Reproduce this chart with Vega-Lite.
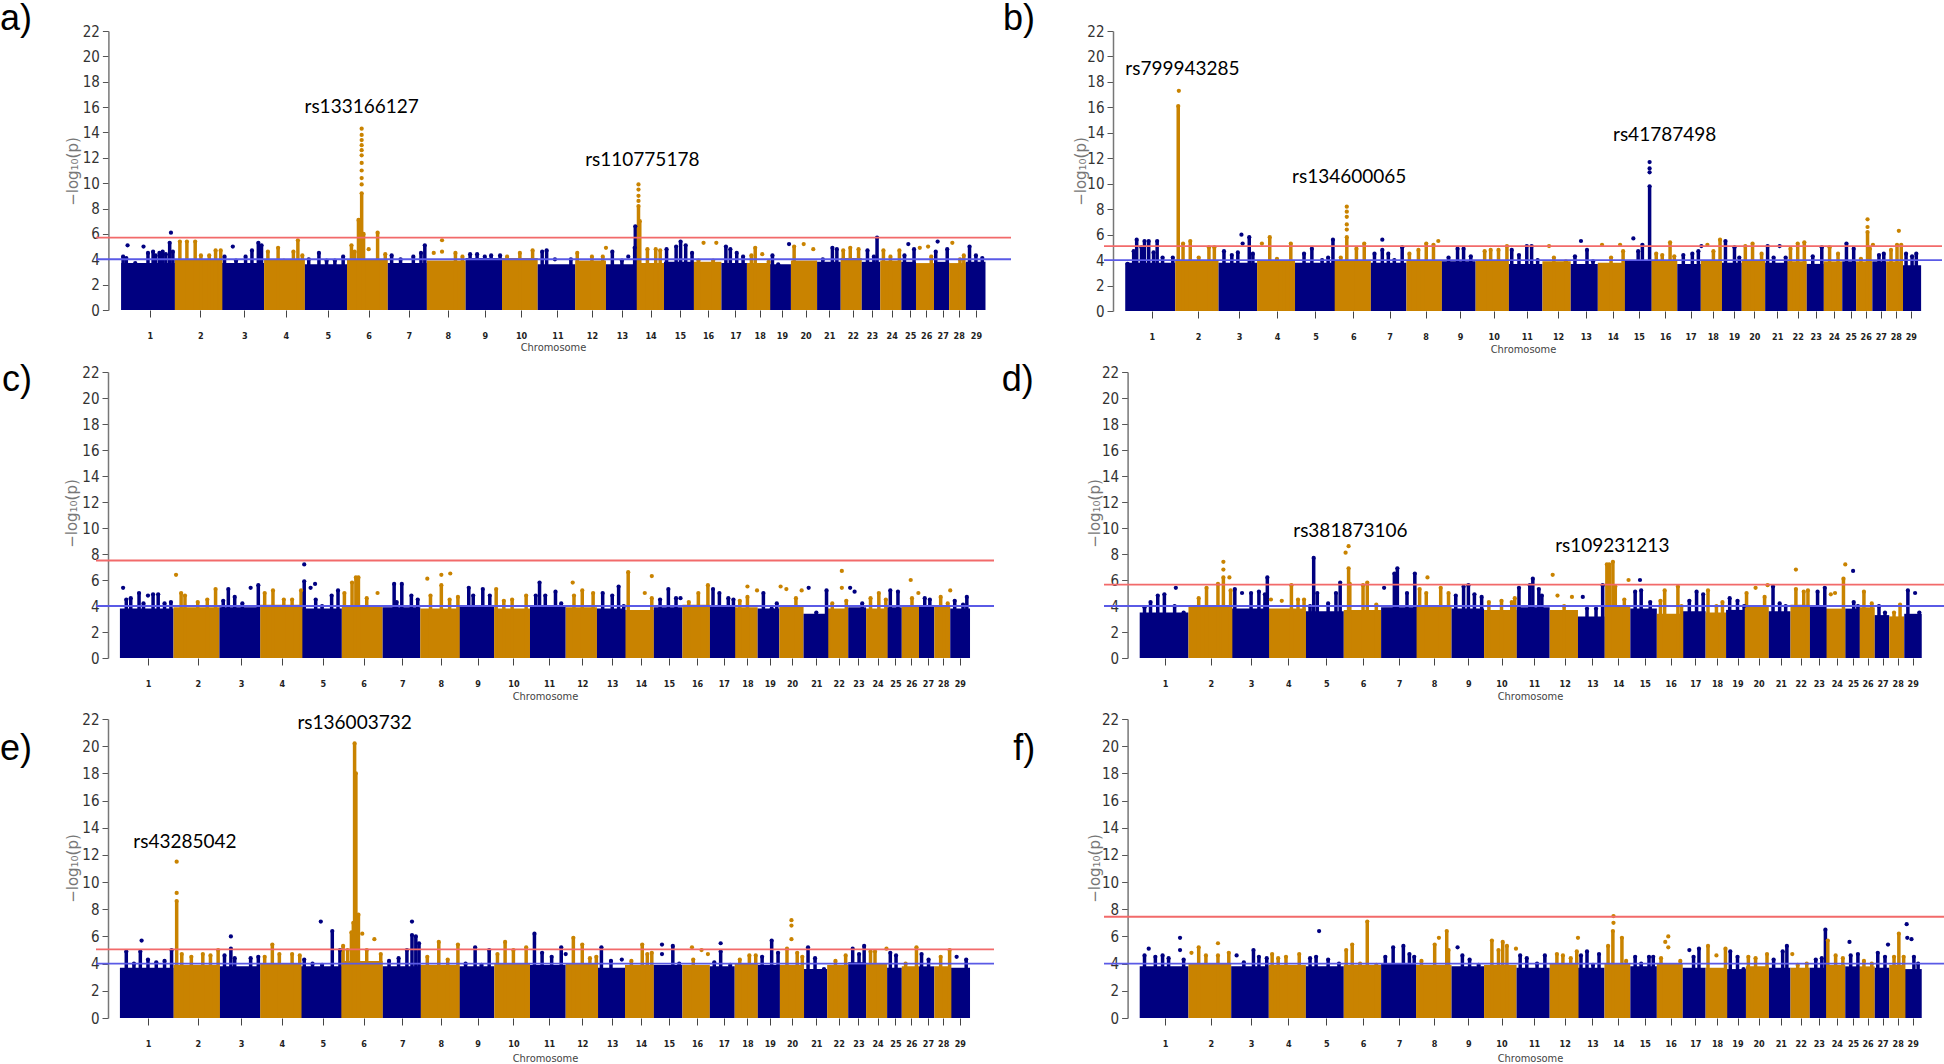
{"$schema":"https://vega.github.io/schema/vega-lite/v6.json","padding":0,"background":"white","bounds":"flush","align":"each","columns":2,"spacing":{"row":61,"column":93},
"config":{"view":{"stroke":null},"legend":{"disable":true},"range":{"category":["#5a5ae6","#000080","#c98300","#f26a6a"]},
"axisX":{"domain":false,"grid":false,"tickSize":7,"tickColor":"#444444","tickWidth":1,"tickCount":40,"labelFont":"DejaVu Sans Condensed","labelFontSize":9,"labelFontWeight":"bold","labelColor":"#222222","labelPadding":14,"labelAngle":0,"labelBound":false,"labelFlush":false,"titleFont":"DejaVu Sans Condensed","titleFontSize":11,"titleFontWeight":"normal","titleColor":"#444444","titleBaseline":"middle","titleAlign":"center","titleAnchor":null},
"axisY":{"grid":false,"tickSize":6,"tickColor":"#555555","domainColor":"#777777","domainWidth":1.5,"labelFont":"DejaVu Sans Condensed","labelFontSize":15,"labelColor":"#333333","labelPadding":3,"values":[0,2,4,6,8,10,12,14,16,18,20,22],"labelBound":false,"labelFlush":false,"titleFont":"DejaVu Sans","titleFontSize":15,"titleFontWeight":"normal","titleColor":"#777777","titleBaseline":"middle","titleAlign":"center","titleAngle":-90}},
"datasets":{
"ca":[{"x":190,"x2":274,"y":3.7,"c":"n"},{"x":274,"x2":348,"y":4,"c":"o"},{"x":348,"x2":414,"y":3.7,"c":"n"},{"x":414,"x2":478,"y":4,"c":"o"},{"x":478,"x2":544,"y":3.6,"c":"n"},{"x":544,"x2":608,"y":4,"c":"o"},{"x":608,"x2":669,"y":3.7,"c":"n"},{"x":669,"x2":730,"y":3.9,"c":"o"},{"x":730,"x2":787,"y":4.1,"c":"n"},{"x":787,"x2":843,"y":4.1,"c":"o"},{"x":843,"x2":902,"y":3.6,"c":"n"},{"x":902,"x2":950,"y":3.9,"c":"o"},{"x":950,"x2":996,"y":3.6,"c":"n"},{"x":996,"x2":1041,"y":3.7,"c":"o"},{"x":1041,"x2":1087,"y":3.8,"c":"n"},{"x":1087,"x2":1131,"y":3.8,"c":"o"},{"x":1131,"x2":1171,"y":3.7,"c":"n"},{"x":1171,"x2":1207,"y":3.7,"c":"o"},{"x":1207,"x2":1240,"y":3.6,"c":"n"},{"x":1240,"x2":1281,"y":3.9,"c":"o"},{"x":1281,"x2":1318,"y":3.8,"c":"n"},{"x":1318,"x2":1351,"y":4.1,"c":"o"},{"x":1351,"x2":1380,"y":3.8,"c":"n"},{"x":1380,"x2":1413,"y":3.9,"c":"o"},{"x":1413,"x2":1436,"y":3.8,"c":"n"},{"x":1436,"x2":1465,"y":3.7,"c":"o"},{"x":1465,"x2":1488,"y":3.8,"c":"n"},{"x":1488,"x2":1514,"y":3.7,"c":"o"},{"x":1514,"x2":1545,"y":3.8,"c":"n"}],
"pa":[{"x":193,"y":4.2,"c":"n"},{"x":198,"y":4.1,"c":"n"},{"x":200,"y":5.1,"c":"n","d":1},{"x":212,"y":3.7,"c":"n"},{"x":225,"y":5,"c":"n","d":1},{"x":232,"y":4.5,"c":"n"},{"x":240,"y":4.6,"c":"n"},{"x":244,"y":4.3,"c":"n"},{"x":250,"y":4.5,"c":"n"},{"x":255,"y":4.6,"c":"n"},{"x":260,"y":4.4,"c":"n"},{"x":266,"y":5.3,"c":"n"},{"x":268,"y":6.1,"c":"n","d":1},{"x":271,"y":4.6,"c":"n"},
{"x":282,"y":5.4,"c":"o"},{"x":293,"y":5.4,"c":"o"},{"x":306,"y":5.4,"c":"o"},{"x":315,"y":4.3,"c":"o"},{"x":328,"y":4.3,"c":"o"},{"x":338,"y":4.7,"c":"o"},{"x":346,"y":4.7,"c":"o"},
{"x":352,"y":4.2,"c":"n"},{"x":365,"y":5,"c":"n","d":1},{"x":370,"y":3.9,"c":"n"},{"x":385,"y":4.2,"c":"n"},{"x":395,"y":4.7,"c":"n"},{"x":405,"y":5.3,"c":"n"},{"x":410,"y":5.1,"c":"n"},
{"x":420,"y":4.6,"c":"o"},{"x":436,"y":4.9,"c":"o"},{"x":445,"y":3.9,"c":"o"},{"x":460,"y":4.6,"c":"o"},{"x":467,"y":5.5,"c":"o"},{"x":474,"y":4.3,"c":"o"},
{"x":484,"y":4,"c":"n"},{"x":500,"y":4.5,"c":"n"},{"x":512,"y":3.9,"c":"n"},{"x":525,"y":3.9,"c":"n"},{"x":538,"y":4.2,"c":"n"},
{"x":551,"y":5.1,"c":"o"},{"x":556,"y":4.6,"c":"o"},{"x":562,"y":7.1,"c":"o"},{"x":565,"y":7.1,"c":"o"},{"x":567,"y":9.2,"c":"o"},{"x":570,"y":6,"c":"o"},{"x":567,"y":9.9,"c":"o","d":1},{"x":567,"y":10.4,"c":"o","d":1},{"x":567,"y":11,"c":"o","d":1},{"x":567,"y":11.6,"c":"o","d":1},{"x":567,"y":12.2,"c":"o","d":1},{"x":567,"y":12.6,"c":"o","d":1},{"x":567,"y":13,"c":"o","d":1},{"x":567,"y":13.4,"c":"o","d":1},{"x":567,"y":13.8,"c":"o","d":1},{"x":567,"y":14.3,"c":"o","d":1},{"x":578,"y":4.8,"c":"o","d":1},{"x":592,"y":6.1,"c":"o"},{"x":604,"y":4.4,"c":"o"},
{"x":614,"y":4.3,"c":"n"},{"x":628,"y":4,"c":"n"},{"x":648,"y":4.2,"c":"n"},{"x":660,"y":4.5,"c":"n"},{"x":666,"y":5.1,"c":"n"},
{"x":680,"y":4.5,"c":"o","d":1},{"x":693,"y":5.5,"c":"o","d":1},{"x":693,"y":4.6,"c":"o","d":1},{"x":714,"y":4.5,"c":"o"},{"x":725,"y":4.2,"c":"o"},
{"x":737,"y":4.4,"c":"n"},{"x":748,"y":4.4,"c":"n"},{"x":760,"y":4.2,"c":"n"},{"x":770,"y":4.3,"c":"n"},{"x":784,"y":4.3,"c":"n"},
{"x":795,"y":4.2,"c":"o"},{"x":815,"y":4.5,"c":"o"},{"x":835,"y":4.7,"c":"o"},
{"x":850,"y":4.6,"c":"n"},{"x":857,"y":4.7,"c":"n"},{"x":870,"y":4,"c":"n","d":1},{"x":895,"y":4,"c":"n"},
{"x":905,"y":4.5,"c":"o"},{"x":928,"y":4.2,"c":"o"},{"x":945,"y":4.2,"c":"o"},{"x":950,"y":4.9,"c":"o","d":1},
{"x":960,"y":4.6,"c":"n"},{"x":975,"y":3.9,"c":"n"},{"x":985,"y":4.2,"c":"n","d":1},{"x":995,"y":4.9,"c":"n"},{"x":996,"y":6.6,"c":"n"},
{"x":1001,"y":8.2,"c":"o"},{"x":1001,"y":8.6,"c":"o","d":1},{"x":1001,"y":9,"c":"o","d":1},{"x":1001,"y":9.5,"c":"o","d":1},{"x":1001,"y":9.9,"c":"o","d":1},{"x":1003,"y":7,"c":"o"},{"x":1015,"y":4.8,"c":"o"},{"x":1028,"y":4.8,"c":"o"},{"x":1035,"y":4.7,"c":"o"},
{"x":1045,"y":4.8,"c":"n"},{"x":1060,"y":5,"c":"n"},{"x":1067,"y":5.4,"c":"n"},{"x":1075,"y":5.1,"c":"n"},{"x":1085,"y":4.5,"c":"n"},
{"x":1095,"y":3.9,"c":"o"},{"x":1103,"y":5.3,"c":"o","d":1},{"x":1118,"y":3.9,"c":"o"},{"x":1123,"y":5.3,"c":"o","d":1},
{"x":1138,"y":5,"c":"n"},{"x":1145,"y":4.8,"c":"n"},{"x":1155,"y":4.5,"c":"n"},{"x":1165,"y":4.2,"c":"n"},
{"x":1178,"y":4.3,"c":"o"},{"x":1184,"y":4.9,"c":"o"},{"x":1195,"y":4.4,"c":"o","d":1},{"x":1205,"y":3.8,"c":"o"},
{"x":1211,"y":4.3,"c":"n"},{"x":1220,"y":3.6,"c":"n"},{"x":1237,"y":5.2,"c":"n","d":1},
{"x":1245,"y":5,"c":"o"},{"x":1260,"y":5.2,"c":"o","d":1},{"x":1275,"y":4.8,"c":"o","d":1},
{"x":1290,"y":4,"c":"n"},{"x":1305,"y":4.9,"c":"n"},{"x":1312,"y":4.8,"c":"n"},
{"x":1322,"y":4.7,"c":"o"},{"x":1333,"y":4.9,"c":"o"},{"x":1346,"y":4.8,"c":"o"},
{"x":1360,"y":4.7,"c":"n"},{"x":1370,"y":4.2,"c":"n"},{"x":1375,"y":5.7,"c":"n"},
{"x":1385,"y":4.7,"c":"o"},{"x":1396,"y":4.2,"c":"o"},{"x":1410,"y":4.7,"c":"o"},
{"x":1418,"y":4.3,"c":"n"},{"x":1424,"y":5.2,"c":"n","d":1},{"x":1433,"y":4.8,"c":"n"},
{"x":1442,"y":4.9,"c":"o","d":1},{"x":1455,"y":5,"c":"o","d":1},{"x":1460,"y":4.2,"c":"o"},
{"x":1467,"y":4.6,"c":"n"},{"x":1470,"y":5.4,"c":"n","d":1},{"x":1485,"y":4.8,"c":"n"},
{"x":1493,"y":5.3,"c":"o","d":1},{"x":1505,"y":4,"c":"o"},{"x":1511,"y":4.3,"c":"o"},
{"x":1520,"y":5,"c":"n"},{"x":1530,"y":4.3,"c":"n"},{"x":1540,"y":4.1,"c":"n"}],
"cb":[{"x":208,"x2":291,"y":3.8,"c":"n"},{"x":291,"x2":363,"y":4,"c":"o"},{"x":363,"x2":427,"y":3.8,"c":"n"},{"x":427,"x2":490,"y":4,"c":"o"},{"x":490,"x2":553,"y":3.8,"c":"n"},{"x":553,"x2":616,"y":4,"c":"o"},{"x":616,"x2":675,"y":3.8,"c":"n"},{"x":675,"x2":734,"y":4,"c":"o"},{"x":734,"x2":790,"y":3.9,"c":"n"},{"x":790,"x2":845,"y":4,"c":"o"},{"x":845,"x2":901,"y":3.7,"c":"n"},{"x":901,"x2":948,"y":3.9,"c":"o"},{"x":948,"x2":993,"y":3.7,"c":"n"},{"x":993,"x2":1037,"y":3.8,"c":"o"},{"x":1037,"x2":1082,"y":4,"c":"n"},{"x":1082,"x2":1125,"y":4,"c":"o"},{"x":1125,"x2":1164,"y":3.7,"c":"n"},{"x":1164,"x2":1199,"y":4,"c":"o"},{"x":1199,"x2":1232,"y":3.8,"c":"n"},{"x":1232,"x2":1271,"y":4,"c":"o"},{"x":1271,"x2":1307,"y":3.8,"c":"n"},{"x":1307,"x2":1340,"y":3.9,"c":"o"},{"x":1340,"x2":1368,"y":3.7,"c":"n"},{"x":1368,"x2":1399,"y":3.9,"c":"o"},{"x":1399,"x2":1422,"y":3.9,"c":"n"},{"x":1422,"x2":1449,"y":3.9,"c":"o"},{"x":1449,"x2":1472,"y":3.9,"c":"n"},{"x":1472,"x2":1498,"y":3.9,"c":"o"},{"x":1498,"x2":1530,"y":3.6,"c":"n"}],
"pb":[{"x":212,"y":3.7,"c":"n"},{"x":222,"y":4.7,"c":"n"},{"x":227,"y":5.6,"c":"n"},{"x":235,"y":5,"c":"n"},{"x":240,"y":5.5,"c":"n"},{"x":247,"y":5.5,"c":"n"},{"x":255,"y":4.6,"c":"n"},{"x":261,"y":5.5,"c":"n"},{"x":270,"y":4.2,"c":"n"},{"x":280,"y":3.6,"c":"n"},{"x":287,"y":4.2,"c":"n"},
{"x":296,"y":16.1,"c":"o"},{"x":297,"y":17.3,"c":"o","d":1},{"x":304,"y":5.3,"c":"o"},{"x":316,"y":5.5,"c":"o"},{"x":330,"y":4.2,"c":"o"},{"x":347,"y":5,"c":"o"},{"x":356,"y":5,"c":"o"},
{"x":372,"y":4.7,"c":"n"},{"x":385,"y":4.4,"c":"n"},{"x":395,"y":4.6,"c":"n"},{"x":401,"y":6,"c":"n","d":1},{"x":403,"y":5.3,"c":"n","d":1},{"x":414,"y":5.8,"c":"n"},{"x":420,"y":4.5,"c":"n"},
{"x":435,"y":5.3,"c":"o","d":1},{"x":448,"y":5.8,"c":"o"},{"x":460,"y":4.1,"c":"o"},{"x":472,"y":3.8,"c":"o"},{"x":483,"y":5.3,"c":"o"},
{"x":505,"y":4.5,"c":"n"},{"x":518,"y":4.9,"c":"n"},{"x":535,"y":4,"c":"n"},{"x":545,"y":4.2,"c":"n"},{"x":553,"y":5.6,"c":"n"},
{"x":566,"y":4.2,"c":"o"},{"x":576,"y":5.8,"c":"o"},{"x":576,"y":6.4,"c":"o","d":1},{"x":576,"y":6.8,"c":"o","d":1},{"x":576,"y":7.4,"c":"o","d":1},{"x":576,"y":7.8,"c":"o","d":1},{"x":576,"y":8.2,"c":"o","d":1},{"x":592,"y":4.9,"c":"o"},{"x":605,"y":5.3,"c":"o"},
{"x":622,"y":4.5,"c":"n"},{"x":635,"y":5.6,"c":"n","d":1},{"x":635,"y":4.8,"c":"n"},{"x":645,"y":4.5,"c":"n"},{"x":655,"y":4,"c":"n"},{"x":668,"y":5,"c":"n"},
{"x":680,"y":4.5,"c":"o"},{"x":695,"y":4.8,"c":"o"},{"x":708,"y":5.3,"c":"o"},{"x":720,"y":5.2,"c":"o"},{"x":728,"y":5.5,"c":"o","d":1},
{"x":745,"y":4.2,"c":"n"},{"x":760,"y":4.9,"c":"n"},{"x":770,"y":4.9,"c":"n"},{"x":782,"y":4.3,"c":"n"},
{"x":805,"y":4.7,"c":"o"},{"x":815,"y":4.8,"c":"o"},{"x":828,"y":4.8,"c":"o"},{"x":842,"y":5.1,"c":"o"},
{"x":850,"y":4.8,"c":"n"},{"x":862,"y":4.4,"c":"n"},{"x":875,"y":5.1,"c":"n"},{"x":883,"y":5.1,"c":"n"},{"x":893,"y":4,"c":"n"},
{"x":912,"y":5.1,"c":"o","d":1},{"x":920,"y":4.2,"c":"o"},{"x":940,"y":3.9,"c":"o"},
{"x":955,"y":4.3,"c":"n"},{"x":965,"y":5.5,"c":"n","d":1},{"x":975,"y":4.8,"c":"n"},{"x":985,"y":3.9,"c":"n"},
{"x":1000,"y":5.2,"c":"o","d":1},{"x":1015,"y":4.2,"c":"o"},{"x":1030,"y":5.2,"c":"o","d":1},{"x":1035,"y":4.7,"c":"o"},
{"x":1052,"y":5.7,"c":"n","d":1},{"x":1060,"y":4.7,"c":"n"},{"x":1067,"y":5.2,"c":"n"},{"x":1079,"y":9.8,"c":"n"},{"x":1079,"y":10.9,"c":"n","d":1},{"x":1079,"y":11.2,"c":"n","d":1},{"x":1079,"y":11.7,"c":"n","d":1},
{"x":1090,"y":4.5,"c":"o"},{"x":1100,"y":4.4,"c":"o"},{"x":1113,"y":5.4,"c":"o"},{"x":1120,"y":4.3,"c":"o"},
{"x":1135,"y":4.4,"c":"n"},{"x":1150,"y":4.5,"c":"n"},{"x":1160,"y":4.7,"c":"n"},{"x":1165,"y":5.1,"c":"n","d":1},
{"x":1175,"y":5.2,"c":"o","d":1},{"x":1185,"y":4.7,"c":"o"},{"x":1196,"y":5.6,"c":"o"},
{"x":1205,"y":5.5,"c":"n"},{"x":1220,"y":5,"c":"n"},{"x":1228,"y":4.2,"c":"n"},
{"x":1238,"y":5.1,"c":"o"},{"x":1250,"y":5.3,"c":"o"},{"x":1265,"y":4.5,"c":"o"},
{"x":1275,"y":5.1,"c":"n"},{"x":1285,"y":4.2,"c":"n"},{"x":1295,"y":5.1,"c":"n","d":1},{"x":1305,"y":4.2,"c":"n"},
{"x":1313,"y":4.9,"c":"o"},{"x":1325,"y":5.3,"c":"o"},{"x":1336,"y":5.4,"c":"o"},
{"x":1350,"y":4.3,"c":"n"},{"x":1365,"y":5,"c":"n"},
{"x":1378,"y":5,"c":"o"},{"x":1392,"y":4.5,"c":"o"},
{"x":1406,"y":5.3,"c":"n"},{"x":1418,"y":4.9,"c":"n"},
{"x":1430,"y":4.1,"c":"o"},{"x":1441,"y":6.2,"c":"o"},{"x":1441,"y":6.6,"c":"o","d":1},{"x":1441,"y":7.2,"c":"o","d":1},{"x":1445,"y":4.9,"c":"o"},{"x":1450,"y":5.2,"c":"o","d":1},
{"x":1460,"y":4.4,"c":"n"},{"x":1468,"y":4.5,"c":"n"},
{"x":1480,"y":4.8,"c":"o"},{"x":1490,"y":5.2,"c":"o"},{"x":1493,"y":6.3,"c":"o","d":1},{"x":1497,"y":5.2,"c":"o"},
{"x":1505,"y":4.5,"c":"n"},{"x":1515,"y":4.3,"c":"n"},{"x":1522,"y":4.5,"c":"n"}],
"cc":[{"x":188,"x2":272,"y":3.8,"c":"n"},{"x":272,"x2":344,"y":3.9,"c":"o"},{"x":344,"x2":408,"y":3.9,"c":"n"},{"x":408,"x2":472,"y":4.1,"c":"o"},{"x":472,"x2":536,"y":3.8,"c":"n"},{"x":536,"x2":600,"y":4,"c":"o"},{"x":600,"x2":659,"y":3.9,"c":"n"},{"x":659,"x2":720,"y":3.8,"c":"o"},{"x":720,"x2":775,"y":4,"c":"n"},{"x":775,"x2":831,"y":3.8,"c":"o"},{"x":831,"x2":887,"y":4,"c":"n"},{"x":887,"x2":936,"y":3.9,"c":"o"},{"x":936,"x2":980,"y":3.8,"c":"n"},{"x":980,"x2":1025,"y":3.7,"c":"o"},{"x":1025,"x2":1070,"y":3.9,"c":"n"},{"x":1070,"x2":1113,"y":4.1,"c":"o"},{"x":1113,"x2":1152,"y":4,"c":"n"},{"x":1152,"x2":1188,"y":3.9,"c":"o"},{"x":1188,"x2":1222,"y":3.8,"c":"n"},{"x":1222,"x2":1260,"y":4,"c":"o"},{"x":1260,"x2":1297,"y":3.4,"c":"n"},{"x":1297,"x2":1330,"y":3.8,"c":"o"},{"x":1330,"x2":1358,"y":3.9,"c":"n"},{"x":1358,"x2":1391,"y":3.8,"c":"o"},{"x":1391,"x2":1414,"y":3.9,"c":"n"},{"x":1414,"x2":1441,"y":4,"c":"o"},{"x":1441,"x2":1465,"y":4,"c":"n"},{"x":1465,"x2":1490,"y":4,"c":"o"},{"x":1490,"x2":1521,"y":3.8,"c":"n"}],
"pc":[{"x":193,"y":5.4,"c":"n","d":1},{"x":198,"y":4.5,"c":"n"},{"x":205,"y":4.6,"c":"n"},{"x":218,"y":5,"c":"n"},{"x":225,"y":4.2,"c":"n"},{"x":232,"y":4.8,"c":"n","d":1},{"x":240,"y":4.9,"c":"n"},{"x":248,"y":4.9,"c":"n"},{"x":258,"y":4.2,"c":"n"},{"x":268,"y":4.3,"c":"n"},
{"x":276,"y":6.4,"c":"o","d":1},{"x":284,"y":5,"c":"o"},{"x":290,"y":4.8,"c":"o"},{"x":310,"y":4.3,"c":"o"},{"x":325,"y":4.5,"c":"o"},{"x":338,"y":5.3,"c":"o"},
{"x":350,"y":4.4,"c":"n"},{"x":358,"y":5.3,"c":"n"},{"x":368,"y":4.7,"c":"n"},{"x":380,"y":4.2,"c":"n"},{"x":393,"y":5.4,"c":"n","d":1},{"x":405,"y":5.6,"c":"n"},
{"x":415,"y":5,"c":"o"},{"x":428,"y":5.2,"c":"o"},{"x":445,"y":4.5,"c":"o"},{"x":458,"y":4.5,"c":"o"},{"x":472,"y":5.2,"c":"o"},
{"x":477,"y":5.9,"c":"n"},{"x":477,"y":7.2,"c":"n","d":1},{"x":487,"y":5.4,"c":"n","d":1},{"x":494,"y":5.7,"c":"n","d":1},{"x":495,"y":4.5,"c":"n"},{"x":505,"y":4,"c":"n"},{"x":520,"y":4.8,"c":"n"},{"x":530,"y":5.2,"c":"n"},
{"x":540,"y":5,"c":"o"},{"x":552,"y":5.8,"c":"o"},{"x":558,"y":6.2,"c":"o"},{"x":562,"y":6.2,"c":"o"},{"x":575,"y":4.6,"c":"o"},{"x":592,"y":5,"c":"o","d":1},
{"x":618,"y":5.7,"c":"n"},{"x":622,"y":4.3,"c":"n"},{"x":630,"y":5.7,"c":"n"},{"x":645,"y":4.8,"c":"n"},{"x":655,"y":4.5,"c":"n"},
{"x":670,"y":6.1,"c":"o","d":1},{"x":675,"y":4.8,"c":"o"},{"x":692,"y":6.4,"c":"o","d":1},{"x":692,"y":5.6,"c":"o"},{"x":705,"y":4.5,"c":"o"},{"x":706,"y":6.5,"c":"o","d":1},{"x":718,"y":4.7,"c":"o"},
{"x":735,"y":5.4,"c":"n"},{"x":742,"y":4.8,"c":"n"},{"x":757,"y":5.3,"c":"n"},{"x":768,"y":4.8,"c":"n"},
{"x":778,"y":5.3,"c":"o"},{"x":790,"y":4.4,"c":"o"},{"x":803,"y":4.5,"c":"o"},{"x":825,"y":4.8,"c":"o"},
{"x":840,"y":4.8,"c":"n"},{"x":846,"y":5.8,"c":"n"},{"x":855,"y":4.8,"c":"n"},{"x":871,"y":5.1,"c":"n"},{"x":880,"y":4.2,"c":"n"},
{"x":898,"y":5.8,"c":"o","d":1},{"x":900,"y":4.8,"c":"o"},{"x":913,"y":5.2,"c":"o"},{"x":930,"y":5,"c":"o"},
{"x":945,"y":5,"c":"n"},{"x":960,"y":4.8,"c":"n"},{"x":970,"y":5.5,"c":"n"},{"x":978,"y":4,"c":"n"},
{"x":985,"y":6.6,"c":"o"},{"x":1011,"y":5,"c":"o","d":1},{"x":1022,"y":6.3,"c":"o","d":1},{"x":1022,"y":4.6,"c":"o"},
{"x":1035,"y":4.5,"c":"n"},{"x":1048,"y":5.3,"c":"n"},{"x":1060,"y":4.6,"c":"n"},{"x":1067,"y":4.6,"c":"n","d":1},
{"x":1080,"y":4.3,"c":"o"},{"x":1095,"y":5,"c":"o"},{"x":1110,"y":5.6,"c":"o"},
{"x":1118,"y":5.3,"c":"n"},{"x":1128,"y":5,"c":"n"},{"x":1142,"y":4.6,"c":"n"},{"x":1150,"y":4.5,"c":"n"},
{"x":1160,"y":4.4,"c":"o"},{"x":1172,"y":5.5,"c":"o","d":1},{"x":1172,"y":4.7,"c":"o"},{"x":1187,"y":5.2,"c":"o","d":1},
{"x":1197,"y":5,"c":"n"},{"x":1210,"y":3.8,"c":"n"},{"x":1218,"y":4.2,"c":"n"},
{"x":1224,"y":5.5,"c":"o","d":1},{"x":1233,"y":5.3,"c":"o","d":1},{"x":1248,"y":4.6,"c":"o"},{"x":1257,"y":5.2,"c":"o","d":1},
{"x":1268,"y":5.4,"c":"n","d":1},{"x":1280,"y":3.5,"c":"n"},{"x":1296,"y":5.2,"c":"n"},
{"x":1305,"y":4.2,"c":"o"},{"x":1320,"y":6.7,"c":"o","d":1},{"x":1320,"y":5.4,"c":"o","d":1},{"x":1327,"y":4.4,"c":"o"},
{"x":1333,"y":5.4,"c":"n","d":1},{"x":1340,"y":5.1,"c":"n","d":1},{"x":1352,"y":4.2,"c":"n"},
{"x":1365,"y":4.6,"c":"o"},{"x":1378,"y":5,"c":"o"},{"x":1389,"y":4.5,"c":"o"},
{"x":1396,"y":5.2,"c":"n"},{"x":1408,"y":5.1,"c":"n"},
{"x":1428,"y":6,"c":"o","d":1},{"x":1430,"y":4.6,"c":"o"},{"x":1440,"y":5,"c":"o","d":1},
{"x":1450,"y":4.6,"c":"n"},{"x":1458,"y":4.5,"c":"n"},
{"x":1475,"y":4.7,"c":"o"},{"x":1486,"y":4.2,"c":"o"},{"x":1490,"y":5.2,"c":"o","d":1},
{"x":1497,"y":4.4,"c":"n"},{"x":1510,"y":4.1,"c":"n"},{"x":1516,"y":4.7,"c":"n"}],
"cd":[{"x":232,"x2":313,"y":3.5,"c":"n"},{"x":313,"x2":384,"y":4,"c":"o"},{"x":384,"x2":446,"y":3.8,"c":"n"},{"x":446,"x2":508,"y":3.8,"c":"o"},{"x":508,"x2":571,"y":3.6,"c":"n"},{"x":571,"x2":633,"y":3.7,"c":"o"},{"x":633,"x2":691,"y":3.9,"c":"n"},{"x":691,"x2":750,"y":4,"c":"o"},{"x":750,"x2":804,"y":3.8,"c":"n"},{"x":804,"x2":858,"y":3.7,"c":"o"},{"x":858,"x2":913,"y":3.9,"c":"n"},{"x":913,"x2":960,"y":3.7,"c":"o"},{"x":960,"x2":1004,"y":3.2,"c":"n"},{"x":1004,"x2":1047,"y":4,"c":"o"},{"x":1047,"x2":1091,"y":3.8,"c":"n"},{"x":1091,"x2":1134,"y":3.4,"c":"o"},{"x":1134,"x2":1172,"y":3.6,"c":"n"},{"x":1172,"x2":1206,"y":3.5,"c":"o"},{"x":1206,"x2":1239,"y":3.7,"c":"n"},{"x":1239,"x2":1277,"y":4,"c":"o"},{"x":1277,"x2":1313,"y":3.6,"c":"n"},{"x":1313,"x2":1345,"y":4.1,"c":"o"},{"x":1345,"x2":1372,"y":4,"c":"n"},{"x":1372,"x2":1404,"y":3.8,"c":"o"},{"x":1404,"x2":1427,"y":3.8,"c":"n"},{"x":1427,"x2":1453,"y":3.9,"c":"o"},{"x":1453,"x2":1477,"y":3.3,"c":"n"},{"x":1477,"x2":1502,"y":3.2,"c":"o"},{"x":1502,"x2":1531,"y":3.4,"c":"n"}],
"pd":[{"x":240,"y":3.9,"c":"n"},{"x":250,"y":4.3,"c":"n"},{"x":262,"y":4.8,"c":"n"},{"x":273,"y":4.9,"c":"n"},{"x":290,"y":4,"c":"n"},{"x":292,"y":5.4,"c":"n","d":1},{"x":305,"y":3.5,"c":"n"},
{"x":330,"y":4.6,"c":"o"},{"x":343,"y":5.4,"c":"o"},{"x":362,"y":5.7,"c":"o"},{"x":371,"y":6.2,"c":"o"},{"x":371,"y":6.8,"c":"o","d":1},{"x":371,"y":7.4,"c":"o","d":1},{"x":381,"y":6.2,"c":"o","d":1},{"x":383,"y":5.2,"c":"o"},
{"x":390,"y":5.3,"c":"n"},{"x":402,"y":5,"c":"n","d":1},{"x":417,"y":5,"c":"n"},{"x":430,"y":5.1,"c":"n"},{"x":440,"y":4.9,"c":"n"},{"x":444,"y":6.2,"c":"n"},
{"x":450,"y":4.5,"c":"o","d":1},{"x":468,"y":4.4,"c":"o","d":1},{"x":484,"y":5.6,"c":"o"},{"x":495,"y":4.5,"c":"o"},{"x":505,"y":4.5,"c":"o"},
{"x":515,"y":4,"c":"n"},{"x":521,"y":7.7,"c":"n"},{"x":527,"y":5,"c":"n"},{"x":545,"y":4.2,"c":"n"},{"x":558,"y":5,"c":"n"},{"x":565,"y":5.8,"c":"n"},
{"x":574,"y":8.1,"c":"o","d":1},{"x":579,"y":8.6,"c":"o","d":1},{"x":579,"y":6.9,"c":"o"},{"x":581,"y":5.7,"c":"o"},{"x":603,"y":5.6,"c":"o"},{"x":610,"y":5.8,"c":"o"},{"x":625,"y":4.1,"c":"o"},
{"x":638,"y":5.4,"c":"n","d":1},{"x":655,"y":6.5,"c":"n"},{"x":660,"y":6.9,"c":"n"},{"x":676,"y":5,"c":"n"},{"x":689,"y":6.5,"c":"n"},
{"x":697,"y":5.3,"c":"o"},{"x":708,"y":5,"c":"o"},{"x":710,"y":6.2,"c":"o","d":1},{"x":732,"y":5.4,"c":"o"},{"x":745,"y":5,"c":"o"},
{"x":757,"y":4.8,"c":"n"},{"x":770,"y":5.5,"c":"n"},{"x":778,"y":5.6,"c":"n"},{"x":788,"y":4.9,"c":"n"},{"x":800,"y":4.7,"c":"n"},
{"x":812,"y":4.3,"c":"o"},{"x":833,"y":4.4,"c":"o"},{"x":850,"y":4.3,"c":"o"},{"x":855,"y":4.6,"c":"o"},
{"x":862,"y":5.4,"c":"n"},{"x":880,"y":5.6,"c":"n"},{"x":885,"y":6.1,"c":"n"},{"x":895,"y":5.3,"c":"n"},{"x":900,"y":4.8,"c":"n"},
{"x":918,"y":6.4,"c":"o","d":1},{"x":926,"y":4.8,"c":"o","d":1},{"x":937,"y":4,"c":"o"},{"x":950,"y":4.7,"c":"o","d":1},
{"x":968,"y":4.7,"c":"n","d":1},{"x":975,"y":3.8,"c":"n"},{"x":990,"y":3.8,"c":"n"},{"x":1001,"y":5.6,"c":"n"},
{"x":1008,"y":7.2,"c":"o"},{"x":1012,"y":7.2,"c":"o"},{"x":1018,"y":7.4,"c":"o"},{"x":1022,"y":5.5,"c":"o"},{"x":1037,"y":4.5,"c":"o"},{"x":1044,"y":6,"c":"o","d":1},
{"x":1055,"y":5.1,"c":"n"},{"x":1063,"y":6,"c":"n","d":1},{"x":1065,"y":5.2,"c":"n"},{"x":1080,"y":4.3,"c":"n"},
{"x":1097,"y":4.4,"c":"o"},{"x":1104,"y":5.2,"c":"o"},{"x":1126,"y":5.5,"c":"o"},{"x":1132,"y":4,"c":"o"},
{"x":1145,"y":4.4,"c":"n"},{"x":1157,"y":5.1,"c":"n"},{"x":1168,"y":4.9,"c":"n"},
{"x":1176,"y":5.2,"c":"o"},{"x":1190,"y":4,"c":"o"},{"x":1200,"y":4.3,"c":"o"},
{"x":1212,"y":4.6,"c":"n"},{"x":1225,"y":4.4,"c":"n"},{"x":1236,"y":4,"c":"n"},
{"x":1240,"y":5,"c":"o"},{"x":1255,"y":5.4,"c":"o","d":1},{"x":1270,"y":4.7,"c":"o"},{"x":1275,"y":5.6,"c":"o","d":1},
{"x":1284,"y":5.5,"c":"n"},{"x":1295,"y":4.2,"c":"n"},{"x":1305,"y":4,"c":"n"},
{"x":1322,"y":6.8,"c":"o","d":1},{"x":1322,"y":5.3,"c":"o"},{"x":1335,"y":5.1,"c":"o"},{"x":1342,"y":5.2,"c":"o"},
{"x":1358,"y":5.1,"c":"n"},{"x":1370,"y":5.4,"c":"n"},
{"x":1380,"y":4.9,"c":"o","d":1},{"x":1387,"y":5,"c":"o","d":1},{"x":1401,"y":6.1,"c":"o"},{"x":1404,"y":7.2,"c":"o","d":1},
{"x":1417,"y":6.7,"c":"n","d":1},{"x":1418,"y":4.3,"c":"n"},{"x":1425,"y":4,"c":"n"},
{"x":1435,"y":5.1,"c":"o"},{"x":1448,"y":4.2,"c":"o"},
{"x":1460,"y":4,"c":"n"},{"x":1470,"y":3.5,"c":"n"},
{"x":1485,"y":3.5,"c":"o"},{"x":1495,"y":4.1,"c":"o"},
{"x":1508,"y":5.2,"c":"n"},{"x":1520,"y":5,"c":"n","d":1},{"x":1527,"y":3.5,"c":"n"}],
"ce":[{"x":188,"x2":272,"y":3.7,"c":"n"},{"x":272,"x2":344,"y":3.9,"c":"o"},{"x":344,"x2":408,"y":3.8,"c":"n"},{"x":408,"x2":472,"y":4,"c":"o"},{"x":472,"x2":536,"y":3.8,"c":"n"},{"x":536,"x2":600,"y":4.2,"c":"o"},{"x":600,"x2":659,"y":3.8,"c":"n"},{"x":659,"x2":720,"y":3.9,"c":"o"},{"x":720,"x2":775,"y":3.8,"c":"n"},{"x":775,"x2":831,"y":4,"c":"o"},{"x":831,"x2":887,"y":3.9,"c":"n"},{"x":887,"x2":936,"y":4,"c":"o"},{"x":936,"x2":980,"y":3.7,"c":"n"},{"x":980,"x2":1025,"y":3.9,"c":"o"},{"x":1025,"x2":1070,"y":3.9,"c":"n"},{"x":1070,"x2":1113,"y":3.9,"c":"o"},{"x":1113,"x2":1152,"y":3.8,"c":"n"},{"x":1152,"x2":1188,"y":4,"c":"o"},{"x":1188,"x2":1222,"y":3.9,"c":"n"},{"x":1222,"x2":1260,"y":3.9,"c":"o"},{"x":1260,"x2":1297,"y":3.6,"c":"n"},{"x":1297,"x2":1330,"y":3.9,"c":"o"},{"x":1330,"x2":1358,"y":4.1,"c":"n"},{"x":1358,"x2":1391,"y":4,"c":"o"},{"x":1391,"x2":1414,"y":3.7,"c":"n"},{"x":1414,"x2":1441,"y":3.8,"c":"o"},{"x":1441,"x2":1465,"y":3.8,"c":"n"},{"x":1465,"x2":1490,"y":3.8,"c":"o"},{"x":1490,"x2":1521,"y":3.7,"c":"n"}],
"pe":[{"x":198,"y":4.9,"c":"n"},{"x":210,"y":4,"c":"n"},{"x":220,"y":4.9,"c":"n"},{"x":222,"y":5.7,"c":"n","d":1},{"x":232,"y":4.3,"c":"n"},{"x":245,"y":4.1,"c":"n"},{"x":258,"y":4.2,"c":"n"},{"x":269,"y":5,"c":"n"},
{"x":277,"y":8.6,"c":"o"},{"x":277,"y":9.2,"c":"o","d":1},{"x":277,"y":11.5,"c":"o","d":1},{"x":285,"y":4.7,"c":"o"},{"x":300,"y":4.5,"c":"o"},{"x":318,"y":4.7,"c":"o"},{"x":330,"y":4.6,"c":"o"},{"x":342,"y":5,"c":"o"},
{"x":352,"y":4.6,"c":"n"},{"x":362,"y":5.1,"c":"n"},{"x":362,"y":6,"c":"n","d":1},{"x":368,"y":4.4,"c":"n"},{"x":393,"y":4.4,"c":"n"},{"x":405,"y":4.5,"c":"n"},
{"x":415,"y":4.5,"c":"o"},{"x":427,"y":5.4,"c":"o"},{"x":438,"y":4.7,"c":"o"},{"x":458,"y":4.7,"c":"o"},{"x":470,"y":4.6,"c":"o"},
{"x":477,"y":4.3,"c":"n"},{"x":490,"y":4,"c":"n"},{"x":503,"y":7.1,"c":"n","d":1},{"x":505,"y":3.9,"c":"n"},{"x":521,"y":6.4,"c":"n"},{"x":533,"y":5,"c":"n"},
{"x":538,"y":5.3,"c":"o"},{"x":545,"y":5,"c":"o"},{"x":551,"y":6.3,"c":"o"},{"x":554,"y":7,"c":"o"},{"x":556,"y":20.2,"c":"o"},{"x":558,"y":18,"c":"o"},{"x":562,"y":7.6,"c":"o"},{"x":568,"y":6.2,"c":"o","d":1},{"x":575,"y":5,"c":"o"},{"x":587,"y":5.8,"c":"o","d":1},{"x":597,"y":4.7,"c":"o"},
{"x":610,"y":4.2,"c":"n"},{"x":625,"y":4.4,"c":"n"},{"x":638,"y":5,"c":"n"},{"x":646,"y":7.1,"c":"n","d":1},{"x":646,"y":6.1,"c":"n"},{"x":652,"y":6,"c":"n"},{"x":657,"y":5.5,"c":"n"},
{"x":670,"y":4.5,"c":"o"},{"x":688,"y":5.6,"c":"o"},{"x":702,"y":4.3,"c":"o"},{"x":718,"y":5.4,"c":"o"},
{"x":730,"y":4,"c":"n"},{"x":745,"y":5.2,"c":"n"},{"x":755,"y":3.9,"c":"n"},{"x":767,"y":5,"c":"n"},
{"x":780,"y":4.7,"c":"o"},{"x":792,"y":5.6,"c":"o"},{"x":805,"y":5,"c":"o"},{"x":825,"y":5.2,"c":"o"},
{"x":838,"y":6.2,"c":"n"},{"x":850,"y":4.8,"c":"n"},{"x":865,"y":4.5,"c":"n"},{"x":880,"y":5.2,"c":"n"},{"x":887,"y":4.7,"c":"n","d":1},
{"x":899,"y":5.9,"c":"o"},{"x":913,"y":5.4,"c":"o"},{"x":925,"y":4.4,"c":"o"},{"x":935,"y":4.5,"c":"o"},
{"x":943,"y":5.2,"c":"n"},{"x":958,"y":4.2,"c":"n"},{"x":975,"y":4.3,"c":"n","d":1},
{"x":990,"y":4.2,"c":"o"},{"x":1007,"y":5.4,"c":"o"},{"x":1015,"y":4.7,"c":"o"},{"x":1022,"y":4.8,"c":"o"},
{"x":1038,"y":5.4,"c":"n","d":1},{"x":1038,"y":4.7,"c":"n","d":1},{"x":1055,"y":5.3,"c":"n"},{"x":1065,"y":4,"c":"n"},
{"x":1085,"y":5.2,"c":"o","d":1},{"x":1087,"y":4.3,"c":"o"},{"x":1100,"y":5,"c":"o","d":1},{"x":1110,"y":4.7,"c":"o","d":1},
{"x":1120,"y":4.1,"c":"n"},{"x":1130,"y":4.9,"c":"n"},{"x":1130,"y":5.5,"c":"n","d":1},{"x":1145,"y":3.9,"c":"n"},
{"x":1160,"y":4.3,"c":"o"},{"x":1175,"y":4.6,"c":"o"},{"x":1185,"y":4.6,"c":"o"},
{"x":1195,"y":4.5,"c":"n"},{"x":1210,"y":5.7,"c":"n"},{"x":1220,"y":4.8,"c":"n"},
{"x":1234,"y":5.1,"c":"o"},{"x":1241,"y":6.8,"c":"o","d":1},{"x":1241,"y":7.2,"c":"o","d":1},{"x":1241,"y":5.8,"c":"o","d":1},{"x":1250,"y":4.8,"c":"o"},{"x":1258,"y":4.5,"c":"o"},
{"x":1267,"y":5.2,"c":"n"},{"x":1278,"y":4.4,"c":"n"},{"x":1292,"y":3.6,"c":"n"},
{"x":1310,"y":4.2,"c":"o"},{"x":1326,"y":4.6,"c":"o"},
{"x":1337,"y":5.1,"c":"n"},{"x":1347,"y":4.7,"c":"n"},{"x":1355,"y":5.3,"c":"n"},
{"x":1365,"y":4.9,"c":"o"},{"x":1372,"y":4.9,"c":"o"},{"x":1390,"y":5.1,"c":"o","d":1},
{"x":1396,"y":4.8,"c":"n"},{"x":1405,"y":4.6,"c":"n"},
{"x":1420,"y":4,"c":"o"},{"x":1437,"y":5.2,"c":"o"},
{"x":1445,"y":4.7,"c":"n"},{"x":1456,"y":4.3,"c":"n"},
{"x":1475,"y":4.5,"c":"o"},{"x":1489,"y":5,"c":"o"},
{"x":1500,"y":4.5,"c":"n","d":1},{"x":1515,"y":4.3,"c":"n"}],
"cf":[{"x":232,"x2":313,"y":3.8,"c":"n"},{"x":313,"x2":384,"y":4,"c":"o"},{"x":384,"x2":446,"y":3.8,"c":"n"},{"x":446,"x2":508,"y":3.9,"c":"o"},{"x":508,"x2":571,"y":3.8,"c":"n"},{"x":571,"x2":633,"y":3.9,"c":"o"},{"x":633,"x2":691,"y":4,"c":"n"},{"x":691,"x2":750,"y":3.9,"c":"o"},{"x":750,"x2":804,"y":3.8,"c":"n"},{"x":804,"x2":858,"y":3.9,"c":"o"},{"x":858,"x2":913,"y":3.7,"c":"n"},{"x":913,"x2":960,"y":4,"c":"o"},{"x":960,"x2":1004,"y":3.7,"c":"n"},{"x":1004,"x2":1047,"y":4,"c":"o"},{"x":1047,"x2":1091,"y":3.8,"c":"n"},{"x":1091,"x2":1134,"y":4,"c":"o"},{"x":1134,"x2":1172,"y":3.7,"c":"n"},{"x":1172,"x2":1206,"y":3.7,"c":"o"},{"x":1206,"x2":1239,"y":3.6,"c":"n"},{"x":1239,"x2":1277,"y":3.8,"c":"o"},{"x":1277,"x2":1313,"y":3.7,"c":"n"},{"x":1313,"x2":1345,"y":3.7,"c":"o"},{"x":1345,"x2":1372,"y":3.7,"c":"n"},{"x":1372,"x2":1404,"y":3.9,"c":"o"},{"x":1404,"x2":1427,"y":3.8,"c":"n"},{"x":1427,"x2":1453,"y":3.8,"c":"o"},{"x":1453,"x2":1477,"y":3.7,"c":"n"},{"x":1477,"x2":1502,"y":3.9,"c":"o"},{"x":1502,"x2":1531,"y":3.6,"c":"n"}],
"pf":[{"x":240,"y":4.6,"c":"n"},{"x":247,"y":5.1,"c":"n","d":1},{"x":258,"y":4.5,"c":"n"},{"x":270,"y":4.6,"c":"n"},{"x":280,"y":4.4,"c":"n"},{"x":299,"y":5.9,"c":"n","d":1},{"x":299,"y":5,"c":"n","d":1},{"x":305,"y":4.3,"c":"n"},
{"x":318,"y":4.8,"c":"o","d":1},{"x":330,"y":5.2,"c":"o"},{"x":342,"y":4.6,"c":"o"},{"x":362,"y":5.5,"c":"o","d":1},{"x":362,"y":4.6,"c":"o"},{"x":380,"y":4.8,"c":"o"},
{"x":393,"y":4.6,"c":"n","d":1},{"x":405,"y":4.1,"c":"n"},{"x":421,"y":5,"c":"n"},{"x":430,"y":4.5,"c":"n"},{"x":443,"y":4.4,"c":"n"},
{"x":452,"y":4.7,"c":"o"},{"x":462,"y":4.4,"c":"o"},{"x":475,"y":4.5,"c":"o"},{"x":497,"y":4.7,"c":"o"},
{"x":515,"y":4.4,"c":"n"},{"x":525,"y":4.5,"c":"n"},{"x":530,"y":6.4,"c":"n","d":1},{"x":545,"y":4.3,"c":"n"},{"x":563,"y":4,"c":"n"},
{"x":575,"y":5,"c":"o"},{"x":585,"y":5.4,"c":"o"},{"x":598,"y":4,"c":"o"},{"x":610,"y":7.1,"c":"o"},{"x":625,"y":3.9,"c":"o"},
{"x":640,"y":4.5,"c":"n"},{"x":653,"y":5.2,"c":"n"},{"x":670,"y":5.3,"c":"n"},{"x":680,"y":4.7,"c":"n"},{"x":688,"y":4.5,"c":"n"},
{"x":700,"y":4.2,"c":"o"},{"x":722,"y":5.4,"c":"o"},{"x":729,"y":5.9,"c":"o","d":1},{"x":742,"y":6.4,"c":"o"},{"x":745,"y":5,"c":"o"},
{"x":760,"y":5.2,"c":"n","d":1},{"x":768,"y":4.6,"c":"n"},{"x":780,"y":4.3,"c":"n"},{"x":795,"y":3.9,"c":"n"},
{"x":817,"y":5.7,"c":"o"},{"x":828,"y":5,"c":"o"},{"x":835,"y":5.6,"c":"o"},{"x":842,"y":5.3,"c":"o"},{"x":857,"y":5.1,"c":"o","d":1},
{"x":864,"y":4.6,"c":"n"},{"x":875,"y":4.4,"c":"n"},{"x":892,"y":4,"c":"n"},{"x":905,"y":4.6,"c":"n"},
{"x":925,"y":4.7,"c":"o"},{"x":935,"y":4.6,"c":"o"},{"x":948,"y":4.4,"c":"o"},{"x":958,"y":4.9,"c":"o"},{"x":960,"y":5.9,"c":"o","d":1},
{"x":965,"y":4.6,"c":"n"},{"x":975,"y":4.9,"c":"n"},{"x":985,"y":3.9,"c":"n"},{"x":995,"y":4.7,"c":"n"},
{"x":1010,"y":5.3,"c":"o"},{"x":1018,"y":6.4,"c":"o"},{"x":1019,"y":7,"c":"o","d":1},{"x":1019,"y":7.5,"c":"o","d":1},{"x":1033,"y":5.9,"c":"o"},{"x":1040,"y":4.2,"c":"o"},
{"x":1055,"y":4.5,"c":"n"},{"x":1065,"y":4,"c":"n"},{"x":1078,"y":4.5,"c":"n"},{"x":1085,"y":4.5,"c":"n"},
{"x":1098,"y":4.4,"c":"o"},{"x":1105,"y":5.6,"c":"o","d":1},{"x":1110,"y":6,"c":"o","d":1},{"x":1110,"y":5.2,"c":"o","d":1},{"x":1130,"y":4.2,"c":"o"},
{"x":1145,"y":5,"c":"n","d":1},{"x":1152,"y":4.5,"c":"n"},{"x":1161,"y":5.1,"c":"n"},
{"x":1176,"y":5.3,"c":"o"},{"x":1190,"y":4.6,"c":"o","d":1},{"x":1205,"y":5.1,"c":"o"},
{"x":1213,"y":4.9,"c":"n"},{"x":1225,"y":4.5,"c":"n"},{"x":1235,"y":3.6,"c":"n"},
{"x":1243,"y":4.5,"c":"o"},{"x":1255,"y":4.4,"c":"o"},{"x":1274,"y":4.7,"c":"o"},
{"x":1285,"y":4.3,"c":"n"},{"x":1300,"y":4.9,"c":"n"},{"x":1307,"y":5.3,"c":"n"},
{"x":1316,"y":4.7,"c":"o","d":1},{"x":1325,"y":3.9,"c":"o"},{"x":1340,"y":4,"c":"o"},
{"x":1355,"y":4.3,"c":"n"},{"x":1365,"y":4.4,"c":"n"},{"x":1371,"y":6.5,"c":"n"},
{"x":1375,"y":5.7,"c":"o"},{"x":1388,"y":4.6,"c":"o"},{"x":1400,"y":4.4,"c":"o"},
{"x":1411,"y":5.6,"c":"n","d":1},{"x":1413,"y":4.6,"c":"n"},{"x":1425,"y":4.7,"c":"n"},
{"x":1435,"y":4.2,"c":"o"},{"x":1448,"y":4,"c":"o"},
{"x":1458,"y":4.8,"c":"n"},{"x":1470,"y":4.5,"c":"n"},{"x":1475,"y":5.4,"c":"n","d":1},
{"x":1485,"y":4.5,"c":"o"},{"x":1493,"y":6.2,"c":"o"},{"x":1501,"y":4.5,"c":"o"},
{"x":1506,"y":6.9,"c":"n","d":1},{"x":1507,"y":5.9,"c":"n","d":1},{"x":1514,"y":5.8,"c":"n","d":1},{"x":1518,"y":4.5,"c":"n"},{"x":1525,"y":4,"c":"n"}]
},
"concat":[
{"width":915,"height":279,"layer":[
{"data":{"name":"ca"},"mark":"rect","encoding":{"x":{"field":"x","type":"quantitative","scale":{"domain":[150.5,1585],"nice":false,"zero":false},"axis":{"title":"Chromosome","titleX":457,"titleY":37,"labelOverlap":false,"tickCount":40,"values":[235,314,383,448,514,578,641,702,760,817,874,928,975,1020,1066,1110,1153,1191,1226,1263,1300,1337,1367,1398,1427,1452,1478,1503,1530],"labelExpr":"indexof([235,314,383,448,514,578,641,702,760,817,874,928,975,1020,1066,1110,1153,1191,1226,1263,1300,1337,1367,1398,1427,1452,1478,1503,1530],datum.value)+1"}},"x2":{"field":"x2"},"y":{"field":"y","type":"quantitative","scale":{"domain":[0,22],"nice":false},"axis":{"title":"−log₁₀(p)","labelOverlap":false,"offset":-12.4,"titleX":-36,"titleY":140}},"y2":{"datum":0},"color":{"field":"c","type":"nominal"}}},
{"data":{"name":"pa"},"transform":[{"filter":"!datum.d"}],"mark":{"type":"rule","strokeWidth":3.5},"encoding":{"x":{"field":"x","type":"quantitative"},"y":{"field":"y","type":"quantitative"},"y2":{"datum":0},"color":{"field":"c","type":"nominal"}}},
{"data":{"name":"pa"},"mark":{"type":"circle","size":18,"opacity":1},"encoding":{"x":{"field":"x","type":"quantitative"},"y":{"field":"y","type":"quantitative"},"color":{"field":"c","type":"nominal"}}},
{"data":{"values":[{"y":5.7,"c":"r"},{"y":4,"c":"b"}]},"mark":{"type":"rule","strokeWidth":1.8},"encoding":{"y":{"field":"y","type":"quantitative"},"color":{"field":"c","type":"nominal"}}},
{"data":{"values":[{"x":567,"y":16,"t":"rs133166127"},{"x":1007,"y":11.83,"t":"rs110775178"}]},"mark":{"type":"text","font":"Lato","fontSize":19,"color":"#000000"},"encoding":{"x":{"field":"x","type":"quantitative"},"y":{"field":"y","type":"quantitative"},"text":{"field":"t"}}},
{"data":{"values":[{"x":0,"y":22.1,"t":"a)"}]},"mark":{"type":"text","font":"Liberation Sans","fontSize":36,"align":"left","baseline":"alphabetic","color":"#000000"},"encoding":{"x":{"field":"x","type":"quantitative"},"y":{"field":"y","type":"quantitative"},"text":{"field":"t"}}}
]},
{"width":838,"height":280,"layer":[
{"data":{"name":"cb"},"mark":"rect","encoding":{"x":{"field":"x","type":"quantitative","scale":{"domain":[172.7,1564.7],"nice":false,"zero":false},"axis":{"title":"Chromosome","titleX":419,"titleY":38,"labelOverlap":false,"tickCount":40,"values":[252,329,397,460,524,587,647,707,764,820,875,927,973,1018,1061,1105,1147,1184,1219,1253,1291,1325,1355,1385,1413,1438,1463,1488,1513],"labelExpr":"indexof([252,329,397,460,524,587,647,707,764,820,875,927,973,1018,1061,1105,1147,1184,1219,1253,1291,1325,1355,1385,1413,1438,1463,1488,1513],datum.value)+1"}},"x2":{"field":"x2"},"y":{"field":"y","type":"quantitative","scale":{"domain":[0,22],"nice":false},"axis":{"title":"−log₁₀(p)","labelOverlap":false,"offset":-9,"titleX":-33,"titleY":140}},"y2":{"datum":0},"color":{"field":"c","type":"nominal"}}},
{"data":{"name":"pb"},"transform":[{"filter":"!datum.d"}],"mark":{"type":"rule","strokeWidth":3.5},"encoding":{"x":{"field":"x","type":"quantitative"},"y":{"field":"y","type":"quantitative"},"y2":{"datum":0},"color":{"field":"c","type":"nominal"}}},
{"data":{"name":"pb"},"mark":{"type":"circle","size":18,"opacity":1},"encoding":{"x":{"field":"x","type":"quantitative"},"y":{"field":"y","type":"quantitative"},"color":{"field":"c","type":"nominal"}}},
{"data":{"values":[{"y":5.1,"c":"r"},{"y":4,"c":"b"}]},"mark":{"type":"rule","strokeWidth":1.8},"encoding":{"y":{"field":"y","type":"quantitative"},"color":{"field":"c","type":"nominal"}}},
{"data":{"values":[{"x":303,"y":18.98,"t":"rs799943285"},{"x":580,"y":10.55,"t":"rs134600065"},{"x":1104,"y":13.85,"t":"rs41787498"}]},"mark":{"type":"text","font":"Lato","fontSize":19,"color":"#000000"},"encoding":{"x":{"field":"x","type":"quantitative"},"y":{"field":"y","type":"quantitative"},"text":{"field":"t"}}},
{"data":{"values":[{"x":5,"y":22.1,"t":"b)"}]},"mark":{"type":"text","font":"Liberation Sans","fontSize":36,"align":"left","baseline":"alphabetic","color":"#000000"},"encoding":{"x":{"field":"x","type":"quantitative"},"y":{"field":"y","type":"quantitative"},"text":{"field":"t"}}}
]},
{"width":898,"height":286,"layer":[
{"data":{"name":"cc"},"mark":"rect","encoding":{"x":{"field":"x","type":"quantitative","scale":{"domain":[150.5,1558.6],"nice":false,"zero":false},"axis":{"title":"Chromosome","titleX":449,"titleY":38,"labelOverlap":false,"tickCount":40,"values":[232,310,378,442,506,570,631,691,749,805,861,913,960,1005,1049,1093,1135,1172,1207,1242,1280,1315,1346,1376,1404,1429,1455,1479,1505],"labelExpr":"indexof([232,310,378,442,506,570,631,691,749,805,861,913,960,1005,1049,1093,1135,1172,1207,1242,1280,1315,1346,1376,1404,1429,1455,1479,1505],datum.value)+1"}},"x2":{"field":"x2"},"y":{"field":"y","type":"quantitative","scale":{"domain":[0,22],"nice":false},"axis":{"title":"−log₁₀(p)","labelOverlap":false,"offset":-12,"titleX":-37,"titleY":141}},"y2":{"datum":0},"color":{"field":"c","type":"nominal"}}},
{"data":{"name":"pc"},"transform":[{"filter":"!datum.d"}],"mark":{"type":"rule","strokeWidth":3.5},"encoding":{"x":{"field":"x","type":"quantitative"},"y":{"field":"y","type":"quantitative"},"y2":{"datum":0},"color":{"field":"c","type":"nominal"}}},
{"data":{"name":"pc"},"mark":{"type":"circle","size":18,"opacity":1},"encoding":{"x":{"field":"x","type":"quantitative"},"y":{"field":"y","type":"quantitative"},"color":{"field":"c","type":"nominal"}}},
{"data":{"values":[{"y":7.5,"c":"r"},{"y":4,"c":"b"}]},"mark":{"type":"rule","strokeWidth":1.8},"encoding":{"y":{"field":"y","type":"quantitative"},"color":{"field":"c","type":"nominal"}}},
{"data":{"values":[{"x":3,"y":20.54,"t":"c)"}]},"mark":{"type":"text","font":"Liberation Sans","fontSize":36,"align":"left","baseline":"alphabetic","color":"#000000"},"encoding":{"x":{"field":"x","type":"quantitative"},"y":{"field":"y","type":"quantitative"},"text":{"field":"t"}}}
]},
{"width":840,"height":286,"layer":[
{"data":{"name":"cd"},"mark":"rect","encoding":{"x":{"field":"x","type":"quantitative","scale":{"domain":[172.7,1568],"nice":false,"zero":false},"axis":{"title":"Chromosome","titleX":426,"titleY":38,"labelOverlap":false,"tickCount":40,"values":[274,350,417,479,542,603,663,721,778,833,887,938,984,1027,1071,1114,1155,1191,1225,1260,1297,1330,1360,1390,1417,1441,1466,1491,1516],"labelExpr":"indexof([274,350,417,479,542,603,663,721,778,833,887,938,984,1027,1071,1114,1155,1191,1225,1260,1297,1330,1360,1390,1417,1441,1466,1491,1516],datum.value)+1"}},"x2":{"field":"x2"},"y":{"field":"y","type":"quantitative","scale":{"domain":[0,22],"nice":false},"axis":{"title":"−log₁₀(p)","labelOverlap":false,"offset":-23.6,"titleX":-33.6,"titleY":141}},"y2":{"datum":0},"color":{"field":"c","type":"nominal"}}},
{"data":{"name":"pd"},"transform":[{"filter":"!datum.d"}],"mark":{"type":"rule","strokeWidth":3.5},"encoding":{"x":{"field":"x","type":"quantitative"},"y":{"field":"y","type":"quantitative"},"y2":{"datum":0},"color":{"field":"c","type":"nominal"}}},
{"data":{"name":"pd"},"mark":{"type":"circle","size":18,"opacity":1},"encoding":{"x":{"field":"x","type":"quantitative"},"y":{"field":"y","type":"quantitative"},"color":{"field":"c","type":"nominal"}}},
{"data":{"values":[{"y":5.65,"c":"r"},{"y":4,"c":"b"}]},"mark":{"type":"rule","strokeWidth":1.8},"encoding":{"y":{"field":"y","type":"quantitative"},"color":{"field":"c","type":"nominal"}}},
{"data":{"values":[{"x":582,"y":9.74,"t":"rs381873106"},{"x":1017,"y":8.64,"t":"rs109231213"}]},"mark":{"type":"text","font":"Lato","fontSize":19,"color":"#000000"},"encoding":{"x":{"field":"x","type":"quantitative"},"y":{"field":"y","type":"quantitative"},"text":{"field":"t"}}},
{"data":{"values":[{"x":3,"y":20.54,"t":"d)"}]},"mark":{"type":"text","font":"Liberation Sans","fontSize":36,"align":"left","baseline":"alphabetic","color":"#000000"},"encoding":{"x":{"field":"x","type":"quantitative"},"y":{"field":"y","type":"quantitative"},"text":{"field":"t"}}}
]},
{"width":898,"height":299,"layer":[
{"data":{"name":"ce"},"mark":"rect","encoding":{"x":{"field":"x","type":"quantitative","scale":{"domain":[150.5,1558.6],"nice":false,"zero":false},"axis":{"title":"Chromosome","titleX":449,"titleY":40,"labelOverlap":false,"tickCount":40,"values":[232,310,378,442,506,570,631,691,749,805,861,913,960,1005,1049,1093,1135,1172,1207,1242,1280,1315,1346,1376,1404,1429,1455,1479,1505],"labelExpr":"indexof([232,310,378,442,506,570,631,691,749,805,861,913,960,1005,1049,1093,1135,1172,1207,1242,1280,1315,1346,1376,1404,1429,1455,1479,1505],datum.value)+1"}},"x2":{"field":"x2"},"y":{"field":"y","type":"quantitative","scale":{"domain":[0,22],"nice":false},"axis":{"title":"−log₁₀(p)","labelOverlap":false,"offset":-12,"titleX":-36,"titleY":149}},"y2":{"datum":0},"color":{"field":"c","type":"nominal"}}},
{"data":{"name":"pe"},"transform":[{"filter":"!datum.d"}],"mark":{"type":"rule","strokeWidth":3.5},"encoding":{"x":{"field":"x","type":"quantitative"},"y":{"field":"y","type":"quantitative"},"y2":{"datum":0},"color":{"field":"c","type":"nominal"}}},
{"data":{"name":"pe"},"mark":{"type":"circle","size":18,"opacity":1},"encoding":{"x":{"field":"x","type":"quantitative"},"y":{"field":"y","type":"quantitative"},"color":{"field":"c","type":"nominal"}}},
{"data":{"values":[{"y":5.05,"c":"r"},{"y":4,"c":"b"}]},"mark":{"type":"rule","strokeWidth":1.8},"encoding":{"y":{"field":"y","type":"quantitative"},"color":{"field":"c","type":"nominal"}}},
{"data":{"values":[{"x":556,"y":21.7,"t":"rs136003732"},{"x":290,"y":12.96,"t":"rs43285042"}]},"mark":{"type":"text","font":"Lato","fontSize":19,"color":"#000000"},"encoding":{"x":{"field":"x","type":"quantitative"},"y":{"field":"y","type":"quantitative"},"text":{"field":"t"}}},
{"data":{"values":[{"x":0,"y":18.98,"t":"e)"}]},"mark":{"type":"text","font":"Liberation Sans","fontSize":36,"align":"left","baseline":"alphabetic","color":"#000000"},"encoding":{"x":{"field":"x","type":"quantitative"},"y":{"field":"y","type":"quantitative"},"text":{"field":"t"}}}
]},
{"width":840,"height":299,"layer":[
{"data":{"name":"cf"},"mark":"rect","encoding":{"x":{"field":"x","type":"quantitative","scale":{"domain":[172.7,1568],"nice":false,"zero":false},"axis":{"title":"Chromosome","titleX":426,"titleY":40,"labelOverlap":false,"tickCount":40,"values":[274,350,417,479,542,603,663,721,778,833,887,938,984,1027,1071,1114,1155,1191,1225,1260,1297,1330,1360,1390,1417,1441,1466,1491,1516],"labelExpr":"indexof([274,350,417,479,542,603,663,721,778,833,887,938,984,1027,1071,1114,1155,1191,1225,1260,1297,1330,1360,1390,1417,1441,1466,1491,1516],datum.value)+1"}},"x2":{"field":"x2"},"y":{"field":"y","type":"quantitative","scale":{"domain":[0,22],"nice":false},"axis":{"title":"−log₁₀(p)","labelOverlap":false,"offset":-23.6,"titleX":-33,"titleY":149}},"y2":{"datum":0},"color":{"field":"c","type":"nominal"}}},
{"data":{"name":"pf"},"transform":[{"filter":"!datum.d"}],"mark":{"type":"rule","strokeWidth":3.5},"encoding":{"x":{"field":"x","type":"quantitative"},"y":{"field":"y","type":"quantitative"},"y2":{"datum":0},"color":{"field":"c","type":"nominal"}}},
{"data":{"name":"pf"},"mark":{"type":"circle","size":18,"opacity":1},"encoding":{"x":{"field":"x","type":"quantitative"},"y":{"field":"y","type":"quantitative"},"color":{"field":"c","type":"nominal"}}},
{"data":{"values":[{"y":7.45,"c":"r"},{"y":4,"c":"b"}]},"mark":{"type":"rule","strokeWidth":1.8},"encoding":{"y":{"field":"y","type":"quantitative"},"color":{"field":"c","type":"nominal"}}},
{"data":{"values":[{"x":22,"y":18.98,"t":"f)"}]},"mark":{"type":"text","font":"Liberation Sans","fontSize":36,"align":"left","baseline":"alphabetic","color":"#000000"},"encoding":{"x":{"field":"x","type":"quantitative"},"y":{"field":"y","type":"quantitative"},"text":{"field":"t"}}}
]}
]}
